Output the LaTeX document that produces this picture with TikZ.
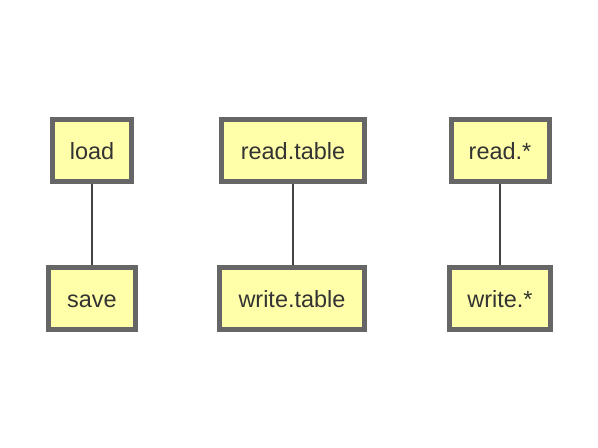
\documentclass[tikz,border=0pt]{standalone}
\usepackage{fontspec}
\setmainfont{Liberation Sans}
\usepackage{tikz}
\definecolor{BoxFill}{RGB}{255,255,170}
\definecolor{BoxEdge}{RGB}{102,102,102}
\definecolor{LinkGray}{RGB}{68,68,68}
\definecolor{TextGray}{RGB}{51,51,51}
\begin{document}
\begin{tikzpicture}[x=0.75pt, y=-0.75pt,
	fnbox/.style={draw=BoxEdge, fill=BoxFill, line width=3.75pt, inner sep=0pt,
		minimum height=46.5pt, text height=13pt, text depth=0pt,
		text=TextGray, font=\fontsize{17.6}{21}\selectfont},
	link/.style={draw=LinkGray, line width=1.1pt}]
		\useasboundingbox (0,0) rectangle (598,448);
		
		\node[fnbox, minimum width=59.25pt] (load) at (92,150.5) {load};
		\node[fnbox, minimum width=65.25pt] (save) at (92,298.5) {save};
		\node[fnbox, minimum width=107.25pt] (readtable) at (293,150.5) {read.table};
		\node[fnbox, minimum width=108.75pt] (writetable) at (292,298.5) {write.table};
		\node[fnbox, minimum width=73.5pt] (readany) at (500,150.5) {read.*};
		\node[fnbox, minimum width=75.75pt] (writeany) at (500,298.5) {write.*};
		
		\draw[link] (load) -- (save);
		\draw[link] (readtable) -- (readtable |- writetable.north);
		\draw[link] (readany) -- (writeany);
	\end{tikzpicture}
\end{document}
